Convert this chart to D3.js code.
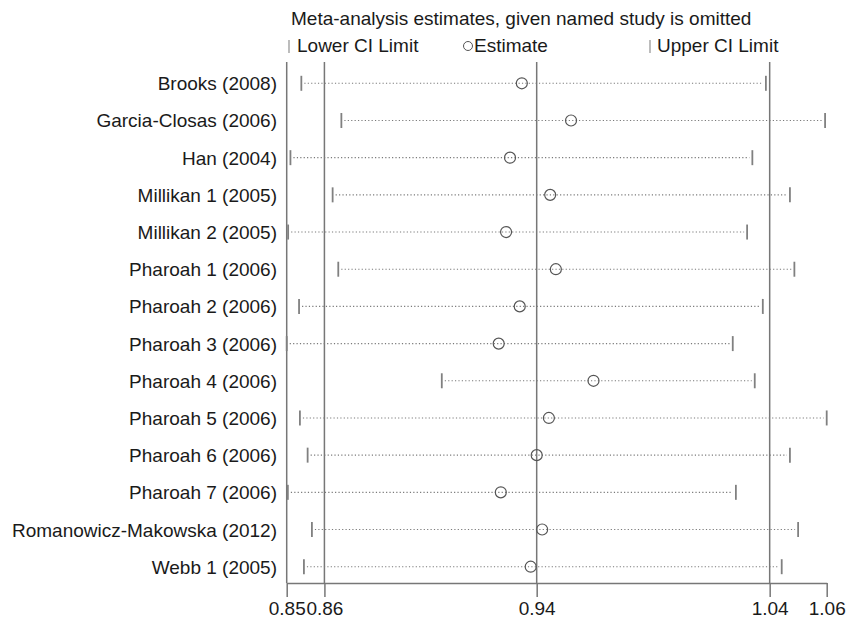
<!DOCTYPE html>
<html>
<head>
<meta charset="utf-8">
<script src="https://cdn.jsdelivr.net/npm/d3@7"></script>
<style>
body { margin: 0; background: #fff; }
text { font-family: "Liberation Sans", Arial, sans-serif; fill: #1a1a1a; }
</style>
</head>
<body>
<div id="chart"></div>
<script>
// Studies (each one omitted in turn)
var studies = [
"Brooks (2008)", "Garcia-Closas (2006)", "Han (2004)", "Millikan 1 (2005)",
"Millikan 2 (2005)", "Pharoah 1 (2006)", "Pharoah 2 (2006)", "Pharoah 3 (2006)",
"Pharoah 4 (2006)", "Pharoah 5 (2006)", "Pharoah 6 (2006)", "Pharoah 7 (2006)",
"Romanowicz-Makowska (2012)", "Webb 1 (2005)"
];

// Estimates and CI limits
var estimates = [0.9367, 0.9557, 0.9322, 0.9476, 0.9307, 0.9498, 0.9359, 0.9279, 0.9645, 0.9471, 0.9424, 0.9287, 0.9445, 0.9401];
var lowerCI = [0.8561, 0.8702, 0.8523, 0.8671, 0.8515, 0.8691, 0.8553, 0.8510, 0.9066, 0.8556, 0.8583, 0.8514, 0.8598, 0.8570];
var upperCI = [1.0348, 1.0601, 1.0291, 1.0450, 1.0269, 1.0469, 1.0335, 1.0209, 1.0301, 1.0608, 1.0450, 1.0222, 1.0485, 1.0415];

// Overall estimate with its CI
var overall = [0.8642, 0.9424, 1.0364];

// Axis ticks
var tickValues = [0.8510, 0.8642, 0.9424, 1.0364, 1.0608];
var tickLabels = ["0.85", "0.86", "0.94", "1.04", "1.06"];

var width = 850;
var height = 619;

var svg = d3.select("#chart")
.append("svg")
.attr("width", width)
.attr("height", height);

// log scale for the ratio
var x = d3.scaleLog()
.domain([d3.min(lowerCI), d3.max(upperCI)])
.range([286.7, 826.7]);

var y = d3.scalePoint()
.domain(studies)
.range([83.3, 566.7]);

var plotTop = 62;
var plotBottom = 583;

// title
svg.append("text")
.attr("x", 291)
.attr("y", 25)
.style("font-size", "19px")
.text("Meta-analysis estimates, given named study is omitted");

// legend
var legendY = 52;
svg.append("line")
.attr("x1", 289).attr("x2", 289)
.attr("y1", legendY - 12).attr("y2", legendY + 1)
.attr("stroke", "#999").attr("stroke-width", 1.3);
svg.append("text").attr("x", 297).attr("y", legendY).style("font-size", "19px").text("Lower CI Limit");
svg.append("circle")
.attr("cx", 468).attr("cy", legendY - 6).attr("r", 4.5)
.attr("fill", "none").attr("stroke", "#555").attr("stroke-width", 1);
svg.append("text").attr("x", 474).attr("y", legendY).style("font-size", "19px").text("Estimate");
svg.append("line")
.attr("x1", 650).attr("x2", 650)
.attr("y1", legendY - 12).attr("y2", legendY + 1)
.attr("stroke", "#999").attr("stroke-width", 1.3);
svg.append("text").attr("x", 657).attr("y", legendY).style("font-size", "19px").text("Upper CI Limit");

// left edge of plot
svg.append("line")
.attr("x1", x.range()[0]).attr("x2", x.range()[0])
.attr("y1", plotTop).attr("y2", plotBottom)
.attr("stroke", "#777").attr("stroke-width", 1.5);

// reference lines at overall estimate and CI
svg.selectAll(".refline")
.data(overall)
.enter()
.append("line")
.attr("class", "refline")
.attr("x1", d => x(d)).attr("x2", d => x(d))
.attr("y1", plotTop).attr("y2", plotBottom)
.attr("stroke", "#777")
.attr("stroke-width", 1.5);

// dotted lines
svg.selectAll(".ci")
.data(studies)
.enter()
.append("line")
.attr("class", "ci")
.attr("x1", (d, i) => x(lowerCI[i]) + 3)
.attr("x2", (d, i) => x(upperCI[i]) - 3)
.attr("y1", d => y(d)).attr("y2", d => y(d))
.attr("stroke", "#7a7a7a")
.attr("stroke-width", 1.1)
.attr("stroke-dasharray", "1.2,2.2");

// lower / upper caps
svg.selectAll(".lo")
.data(studies)
.enter()
.append("line")
.attr("class", "lo")
.attr("x1", (d, i) => x(lowerCI[i])).attr("x2", (d, i) => x(lowerCI[i]))
.attr("y1", d => y(d) - 7.5).attr("y2", d => y(d) + 7.5)
.attr("stroke", "#808080").attr("stroke-width", 1.8);

svg.selectAll(".hi")
.data(studies)
.enter()
.append("line")
.attr("class", "hi")
.attr("x1", (d, i) => x(upperCI[i])).attr("x2", (d, i) => x(upperCI[i]))
.attr("y1", d => y(d) - 7.5).attr("y2", d => y(d) + 7.5)
.attr("stroke", "#808080").attr("stroke-width", 1.8);

// estimate circles
svg.selectAll(".est")
.data(studies)
.enter()
.append("circle")
.attr("class", "est")
.attr("cx", (d, i) => x(estimates[i]))
.attr("cy", d => y(d))
.attr("r", 5.5)
.attr("fill", "none")
.attr("stroke", "#555")
.attr("stroke-width", 1.2);

// study labels
svg.selectAll(".label")
.data(studies)
.enter()
.append("text")
.attr("class", "label")
.attr("x", 277)
.attr("y", d => y(d) + 7)
.attr("text-anchor", "end")
.style("font-size", "19px")
.text(d => d);

// x axis
var xAxis = d3.axisBottom(x)
.tickValues(tickValues)
.tickFormat((d, i) => tickLabels[i])
.tickSize(14)
.tickSizeOuter(0)
.tickPadding(5);

var gx = svg.append("g")
.attr("transform", "translate(0," + plotBottom + ")")
.call(xAxis);

gx.select(".domain").attr("stroke", "#777").attr("stroke-width", 1.5);
gx.selectAll(".tick line").attr("stroke", "#777").attr("stroke-width", 1.5);
gx.selectAll(".tick text")
.style("font-size", "19px")
.style("font-family", "'Liberation Sans', Arial, sans-serif")
.attr("fill", "#1a1a1a");
</script>
</body>
</html>
